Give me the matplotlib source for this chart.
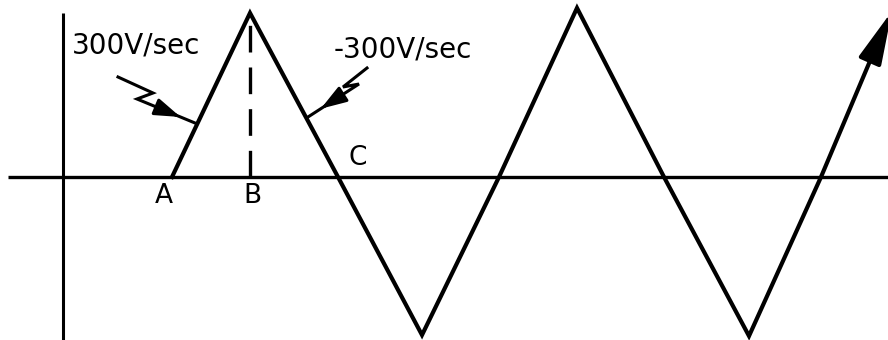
import numpy as np
import matplotlib
matplotlib.use('Agg')
import matplotlib.pyplot as plt

# triangle wave vertices (time offset from vertical axis, voltage offset from time axis)
wave_t = [109, 187, 275, 359, 436, 514, 601, 686, 758, 807]
wave_v = [0, 164, 0, -158, 0, 169, 0, -159, 0, 116]
arrow_tip = (829, 166)

# axes lines
haxis_t = [-55, 830]
vaxis_v = [-170, 164]

# dashed line from the peak down to B
peak_t = 187
peak_v = 164

# point labels
point_names = ['A', 'B', 'C']
point_t = [101, 189, 295]
point_v = [-19, -19, 19]

# slope labels
slope_text = ['300V/sec', '-300V/sec']
slope_t = [9, 271]
slope_v = [131, 127]

# lightning arrows (start -> zig -> zag -> tip)
bolt_left_t = [55, 90, 74, 132]
bolt_left_v = [100, 84, 78, 54]
bolt_right_t = [304, 280, 296, 245]
bolt_right_v = [109, 90, 93, 60]

fig = plt.figure(figsize=(8.88, 3.4), dpi=100)
ax = fig.add_axes([0, 0, 1, 1])
ax.set_xlim(-63, 825)
ax.set_ylim(-163, 177)
ax.axis('off')

ax.plot(haxis_t, [0, 0], color='black', lw=2.4, solid_capstyle='butt')
ax.plot([0, 0], vaxis_v, color='black', lw=2.2, solid_capstyle='butt')

ax.plot(wave_t, wave_v, color='black', lw=3.0, solid_joinstyle='miter')
ax.annotate('', xy=arrow_tip, xytext=(wave_t[-1], wave_v[-1]),
            annotation_clip=False,
            arrowprops=dict(arrowstyle='-|>,head_length=1.8,head_width=0.4',
                            color='black', lw=3.0, shrinkA=0, shrinkB=0,
                            mutation_scale=18))

ln, = ax.plot([peak_t, peak_t], [0, peak_v], color='black', lw=2.4)
ln.set_dashes([8, 4.5])

for t, v, s in zip(point_t, point_v, point_names):
    ax.text(t, v, s, fontsize=19, ha='center', va='center', family='DejaVu Sans')

for t, v, s in zip(slope_t, slope_v, slope_text):
    ax.text(t, v, s, fontsize=20, ha='left', va='center', family='DejaVu Sans')

for bt, bv in [(bolt_left_t, bolt_left_v), (bolt_right_t, bolt_right_v)]:
    ax.plot(bt, bv, color='black', lw=2.2, solid_joinstyle='miter')
    # filled head part-way along the last segment
    hx = bt[2] + 0.75 * (bt[3] - bt[2])
    hy = bv[2] + 0.75 * (bv[3] - bv[2])
    sx = bt[2] + 0.5 * (bt[3] - bt[2])
    sy = bv[2] + 0.5 * (bv[3] - bv[2])
    ax.annotate('', xy=(hx, hy), xytext=(sx, sy),
                arrowprops=dict(arrowstyle='-|>,head_length=1.2,head_width=0.4',
                                color='black', lw=2.2, shrinkA=0, shrinkB=0,
                                mutation_scale=13))

fig.savefig('out.png', dpi=100, facecolor='white')
